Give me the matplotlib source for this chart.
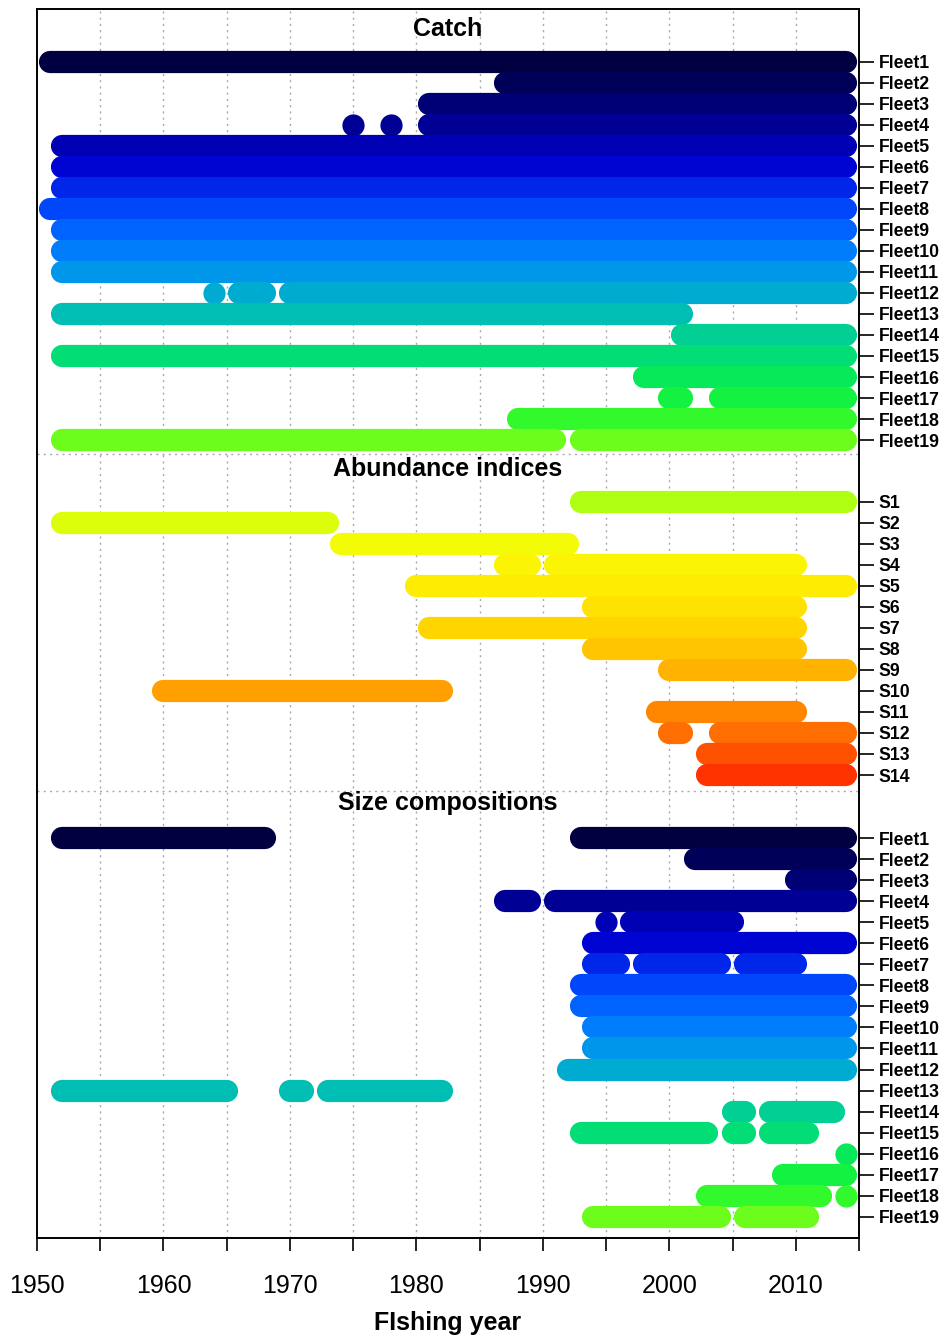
# plot.py
# 数据可用性图：捕捞量 / 丰度指数 / 体长组成 三段，每行一个船队或调查

import numpy as np
import matplotlib
matplotlib.use('Agg')
import matplotlib.pyplot as plt
plt.rcParams['font.family'] = ['Liberation Sans', 'DejaVu Sans']

# -----------------数据（每行为若干段连续年份：起始年, 结束年）
fleet_names = ['Fleet%d' % i for i in range(1, 20)]
survey_names = ['S%d' % i for i in range(1, 15)]

catch_runs = [
    [(1951, 2014)],
    [(1987, 2014)],
    [(1981, 2014)],
    [(1975, 1975), (1978, 1978), (1981, 2014)],
    [(1952, 2014)],
    [(1952, 2014)],
    [(1952, 2014)],
    [(1951, 2014)],
    [(1952, 2014)],
    [(1952, 2014)],
    [(1952, 2014)],
    [(1964, 1964), (1966, 1968), (1970, 2014)],
    [(1952, 2001)],
    [(2001, 2014)],
    [(1952, 2014)],
    [(1998, 2014)],
    [(2000, 2001), (2004, 2014)],
    [(1988, 2014)],
    [(1952, 1991), (1993, 2014)],
]

abund_runs = [
    [(1993, 2014)],
    [(1952, 1973)],
    [(1974, 1992)],
    [(1987, 1989), (1991, 2010)],
    [(1980, 2014)],
    [(1994, 2010)],
    [(1981, 2010)],
    [(1994, 2010)],
    [(2000, 2014)],
    [(1960, 1982)],
    [(1999, 2010)],
    [(2000, 2001), (2004, 2014)],
    [(2003, 2014)],
    [(2003, 2014)],
]

size_runs = [
    [(1952, 1968), (1993, 2014)],
    [(2002, 2014)],
    [(2010, 2014)],
    [(1987, 1989), (1991, 2014)],
    [(1995, 1995), (1997, 2005)],
    [(1994, 2014)],
    [(1994, 1996), (1998, 2004), (2006, 2010)],
    [(1993, 2014)],
    [(1993, 2014)],
    [(1994, 2014)],
    [(1994, 2014)],
    [(1992, 2014)],
    [(1952, 1965), (1970, 1971), (1973, 1982)],
    [(2005, 2006), (2008, 2013)],
    [(1993, 2003), (2005, 2006), (2008, 2011)],
    [(2014, 2014)],
    [(2009, 2014)],
    [(2003, 2012), (2014, 2014)],
    [(1994, 2004), (2006, 2011)],
]

section_titles = ['Catch', 'Abundance indices', 'Size compositions']


# -----------------颜色（r4ss rich.colors.short 调色板）
def rich_colors(n):
    x = np.linspace(0, 1, n)
    r = 1 / (1 + np.exp(20 - 35 * x))
    g = np.clip(-0.8 + 6 * x - 5 * x ** 2, 0, 1)
    b = np.exp(-0.5 * ((x - 0.25) / 0.15) ** 2)
    return list(zip(r, g, b))


cols = rich_colors(len(fleet_names) + len(survey_names))
fleet_cols = cols[:len(fleet_names)]
survey_cols = cols[len(fleet_names):]

# -----------------版面（行单位，y 向下）
catch_y0 = 2.507
abund_y0 = 23.44
size_y0 = 39.45
dividers = [21.17, 37.19]
title_y = [0.93, 21.9, 37.76]
y_bottom = 58.48

fig = plt.figure(figsize=(9.46, 13.37), dpi=100)
ax = fig.add_axes([37 / 946, 1 - 1238.3 / 1337, (859 - 37) / 946, (1238.3 - 9) / 1337])
ax.set_xlim(1950, 2015)
ax.set_ylim(y_bottom, 0)

LW = 16  # 线宽（pt）


def draw_rows(runs, colors, y0):
    ys = []
    for i, segs in enumerate(runs):
        y = y0 + i
        ys.append(y)
        for a, b in segs:
            if a == b:
                ax.plot([a], [y], 'o', ms=LW, color=colors[i], mec='none', zorder=3)
            else:
                ax.plot([a, b], [y, y], lw=LW, color=colors[i],
                        solid_capstyle='round', zorder=3)
    return ys


y1 = draw_rows(catch_runs, fleet_cols, catch_y0)
y2 = draw_rows(abund_runs, survey_cols, abund_y0)
y3 = draw_rows(size_runs, fleet_cols, size_y0)

# 网格与分隔线
for yr in range(1955, 2015, 5):
    ax.axvline(yr, color='#aaaaaa', lw=1, ls=(0, (1.5, 3)), zorder=1)
for d in dividers:
    ax.axhline(d, color='#aaaaaa', lw=1, ls=(0, (1.5, 3)), zorder=1)

for t, ty in zip(section_titles, title_y):
    ax.text(1982.5, ty, t, ha='center', va='center', fontsize=18, fontweight='bold')

# 坐标轴
xt = list(range(1950, 2016, 5))
ax.set_xticks(xt)
ax.set_xticklabels([str(v) if v % 10 == 0 and v < 2015 else '' for v in xt], fontsize=18)
ax.tick_params(axis='x', length=9.4, width=1.2, pad=16)
ax.set_xlabel('FIshing year', fontsize=18, fontweight='bold', labelpad=10)

ax.yaxis.tick_right()
ax.set_yticks(y1 + y2 + y3)
ax.set_yticklabels(fleet_names + survey_names + fleet_names, fontsize=12.7, fontweight='bold')
ax.tick_params(axis='y', length=11, width=1.2, pad=3)

for s in ax.spines.values():
    s.set_linewidth(1.4)

fig.savefig('out.png', dpi=100)
